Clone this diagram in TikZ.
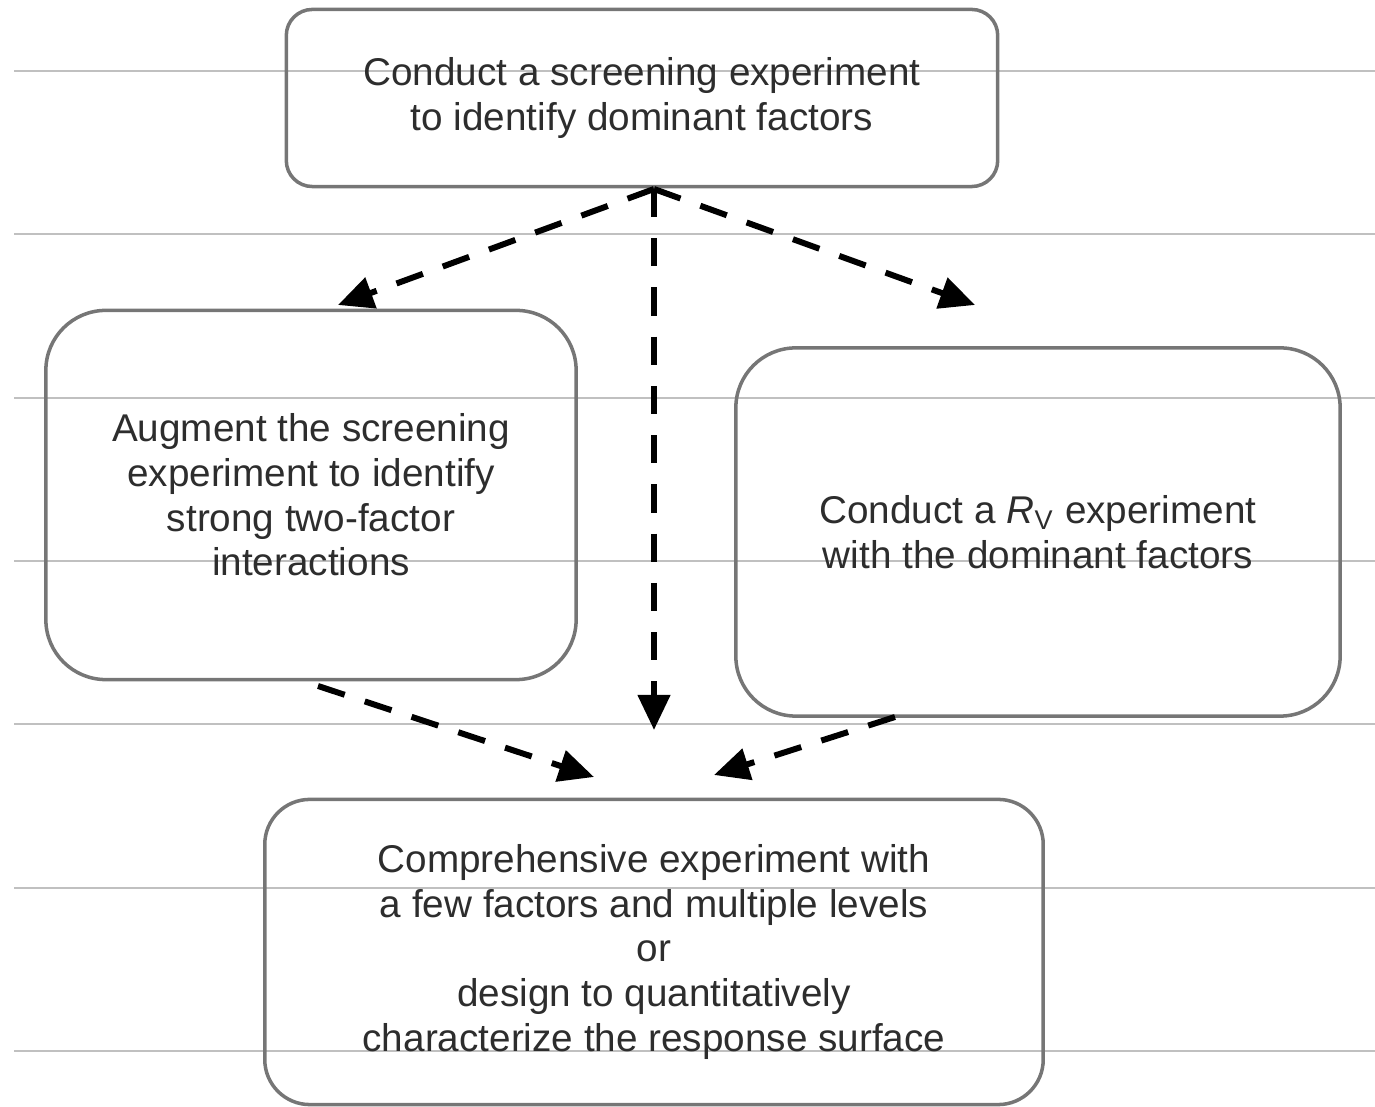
\documentclass[tikz,border=0pt]{standalone}
\usepackage{fontspec}
\setmainfont{Liberation Sans}
\usetikzlibrary{arrows.meta}
\definecolor{boxgray}{RGB}{118,118,118}
\definecolor{rulegray}{RGB}{192,192,192}
\definecolor{textgray}{RGB}{45,45,45}

\begin{document}
\begin{tikzpicture}[x=0.01cm,y=-0.01cm]

%
% Styles
%
\tikzstyle{stage} = [draw=boxgray,line width=1pt,align=center,text=textgray,inner sep=0pt,font=\fontsize{11}{12.7}\selectfont]
\tikzstyle{flow} = [line width=1.7pt,dash pattern=on 8pt off 6pt,-{Triangle[length=10pt,width=9pt]}]

\useasboundingbox (0,0) rectangle (1375,1107);

% ruled background
\foreach \y in {71,234,398,561,724,888,1051}
  \draw[rulegray,line width=0.6pt] (14,\y) -- (1375,\y);

\node[stage,minimum width=7.11cm,minimum height=1.77cm,rounded corners=0.26cm] (screen) at (642,98)
  {Conduct a screening experiment\\to identify dominant factors};
\node[stage,minimum width=5.30cm,minimum height=3.69cm,rounded corners=0.6cm] (augment) at (311,495)
  {Augment the screening\\experiment to identify\\strong two-factor\\interactions};
\node[stage,minimum width=6.04cm,minimum height=3.68cm,rounded corners=0.6cm] (resfive) at (1038,532)
  {Conduct a \textit{R}\textsubscript{V} experiment\\with the dominant factors};
\node[stage,minimum width=7.78cm,minimum height=3.05cm,rounded corners=0.45cm] (compr) at (654,952)
  {Comprehensive experiment with\\a few factors and multiple levels\\or\\design to quantitatively\\characterize the response surface};

\coordinate (fork) at (654,189);
\coordinate (tipA) at (338,305);
\coordinate (tipR) at (975,305);
\coordinate (tipC) at (654,730);
\coordinate (augout) at (318,686);
\coordinate (resout) at (895,717);
\coordinate (tipL) at (594,777);
\coordinate (tipM) at (714,775);

\draw[flow] (fork) -- (tipA);
\draw[flow] (fork) -- (tipR);
\draw[flow] (fork) -- (tipC);
\draw[flow] (augout) -- (tipL);
\draw[flow] (resout) -- (tipM);

\end{tikzpicture}
\end{document}
